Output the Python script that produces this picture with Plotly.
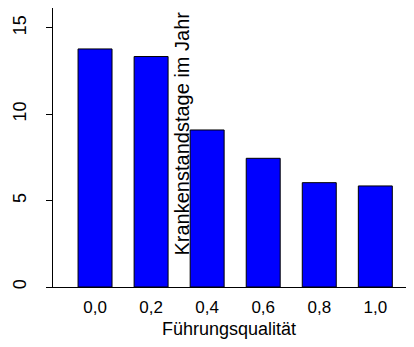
import plotly.graph_objects as go

categories = ["0,0", "0,2", "0,4", "0,6", "0,8", "1,0"]
values = [13.78, 13.34, 9.09, 7.45, 6.04, 5.85]
y_ticks = [0, 5, 10, 15]
x_title = "Führungsqualität"
y_title = "Krankenstandstage im Jahr"

# page body has an 8px default margin; figure sized to fill the visible window
OFF = 8
W, H = 414 - OFF, 347 - OFF
L, R, T, B = 53 - OFF, 0, 0, 347 - 287
PW, PH = W - L - R, H - T - B

def px_x(sx):
    return (sx - OFF - L) / PW

def px_y(sy):
    return (H - B - (sy - OFF)) / PH

fig = go.Figure()
fig.add_trace(go.Bar(
    x=list(range(len(categories))), y=values, width=0.606,
    marker=dict(color="#0000FF", line=dict(color="#000000", width=1)),
))

FONT = "Arial, Liberation Sans, sans-serif"
fig.update_layout(
    width=W, height=H,
    margin=dict(l=L, r=R, t=T, b=B, pad=0, autoexpand=False),
    paper_bgcolor="white", plot_bgcolor="white",
    showlegend=False,
    font=dict(family=FONT, color="black", size=17),
    xaxis=dict(
        range=[-0.75, 5.69], automargin=False,
        tickmode="array", tickvals=list(range(len(categories))), ticktext=categories,
        showgrid=False, zeroline=False,
        showline=True, linecolor="black", linewidth=1,
        ticks="", ticklabelstandoff=5,
        tickfont=dict(size=17, family=FONT, color="black"),
    ),
    yaxis=dict(
        range=[0, 16.15], automargin=False,
        tickmode="array", tickvals=y_ticks, ticktext=[str(v) for v in y_ticks],
        showgrid=False, zeroline=False,
        showline=True, linecolor="black", linewidth=1,
        ticks="outside", ticklen=6, tickcolor="black", tickwidth=1,
        tickangle=-90, ticklabelstandoff=13,
        tickfont=dict(size=18, family=FONT, color="black"),
    ),
    annotations=[
        dict(text=y_title, textangle=-90, xref="paper", yref="paper",
             x=px_x(181.5), y=px_y(134),
             xanchor="center", yanchor="middle", showarrow=False,
             font=dict(size=20, family=FONT, color="black")),
        dict(text=x_title, xref="paper", yref="paper",
             x=px_x(229), y=px_y(329),
             xanchor="center", yanchor="middle", showarrow=False,
             font=dict(size=18, family=FONT, color="black")),
    ],
)

fig.write_html("out.html")
